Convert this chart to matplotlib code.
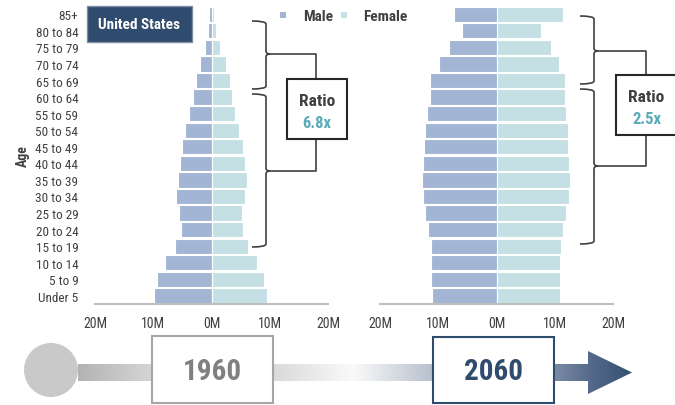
import numpy as np
import matplotlib
matplotlib.use("Agg")
import matplotlib.pyplot as plt
from matplotlib import font_manager
from matplotlib.path import Path
from matplotlib.patches import PathPatch, Rectangle, Circle, Polygon
from matplotlib.colors import LinearSegmentedColormap

ages = ["Under 5", "5 to 9", "10 to 14", "15 to 19", "20 to 24", "25 to 29",
        "30 to 34", "35 to 39", "40 to 44", "45 to 49", "50 to 54", "55 to 59",
        "60 to 64", "65 to 69", "70 to 74", "75 to 79", "80 to 84", "85+"]

# population in millions, youngest group first
male_1960 = [9.9, 9.4, 8.0, 6.3, 5.2, 5.5, 6.1, 5.8, 5.4, 5.1, 4.5, 3.9,
             3.2, 2.7, 2.0, 1.2, 0.6, 0.35]
female_1960 = [9.6, 9.0, 7.8, 6.3, 5.4, 5.3, 5.8, 6.1, 5.7, 5.4, 4.7, 4.1,
               3.6, 3.1, 2.5, 1.5, 0.8, 0.4]
male_2060 = [11.1, 11.2, 11.2, 11.3, 11.8, 12.2, 12.6, 12.8, 12.6, 12.4, 12.3, 11.9,
             11.5, 11.4, 9.9, 8.1, 6.0, 7.3]
female_2060 = [10.9, 10.9, 10.9, 11.0, 11.4, 12.0, 12.4, 12.6, 12.5, 12.2, 12.2, 12.0,
               11.8, 11.8, 10.8, 9.4, 7.6, 11.5]

xticks = [-20, -10, 0, 10, 20]
xtick_labels = ["20M", "10M", "0M", "10M", "20M"]
ratios = ["6.8x", "2.5x"]
years = ["1960", "2060"]

MALE = "#a3b5d4"
FEMALE = "#c5e0e4"
NAVY = "#2f4b6e"
DARK = "#404040"
TEAL = "#5aabb8"


def pick_font():
    for name in ["Liberation Sans Narrow", "Arial Narrow", "Roboto Condensed",
                 "Open Sans Condensed", "Liberation Sans", "DejaVu Sans"]:
        try:
            font_manager.findfont(name, fallback_to_default=False)
            return name
        except Exception:
            pass
    return "DejaVu Sans"


FONT = pick_font()
NARROW = FONT not in ("Liberation Sans", "DejaVu Sans")
plt.rcParams["font.family"] = [FONT, "DejaVu Sans"]

W, H = 675, 406
fig = plt.figure(figsize=(W / 100, H / 100), dpi=100)


def px_axes(x0, x1, ytop, ybot):
    return fig.add_axes([x0 / W, (H - ybot) / H, (x1 - x0) / W, (ybot - ytop) / H])


def pyramid(ax, male, female, show_labels):
    y = np.arange(len(ages))
    ax.barh(y, -np.array(male), height=0.92, color=MALE, edgecolor="white", linewidth=0.8)
    ax.barh(y, female, height=0.92, color=FEMALE, edgecolor="white", linewidth=0.8)
    ax.set_xlim(-20, 20)
    ax.set_ylim(-0.46, 17.5)
    ax.set_xticks(xticks)
    ax.set_xticklabels(xtick_labels)
    ax.set_yticks(y)
    ax.set_yticklabels(ages if show_labels else [])
    ax.tick_params(axis="both", length=0, colors=DARK)
    ax.tick_params(axis="x", pad=9, labelsize=10 if NARROW else 9.5)
    ax.tick_params(axis="y", pad=12, labelsize=9.5 if NARROW else 9)
    for s in ["top", "left", "right"]:
        ax.spines[s].set_visible(False)
    ax.spines["bottom"].set_color("#bfbfbf")
    ax.spines["bottom"].set_linewidth(1.5)


ax1 = px_axes(95, 328, 7, 304.5)
pyramid(ax1, male_1960, female_1960, True)
ax1.set_ylabel("Age", fontweight="bold", fontsize=10, color=DARK)
ax1.yaxis.set_label_coords(-0.28, 0.5)

ax2 = px_axes(380, 613, 7, 304.5)
pyramid(ax2, male_2060, female_2060, False)

# overlay in pixel coordinates for annotations
ov = fig.add_axes([0, 0, 1, 1])
ov.set_xlim(0, W)
ov.set_ylim(H, 0)
ov.axis("off")
ov.patch.set_alpha(0)


def brace(x_tip, x_mid, y0, y1, ym, x_line, y_box):
    r = 3
    verts = [(x_tip, y0), (x_mid, y0), (x_mid, y0 + r),
             (x_mid, ym - r), (x_mid, ym), (x_mid + 4, ym),
             (x_mid, ym), (x_mid, ym + r),
             (x_mid, y1 - r), (x_mid, y1), (x_tip, y1)]
    codes = [Path.MOVETO, Path.CURVE3, Path.CURVE3,
             Path.LINETO, Path.CURVE3, Path.CURVE3,
             Path.CURVE3, Path.CURVE3,
             Path.LINETO, Path.CURVE3, Path.CURVE3]
    ov.add_patch(PathPatch(Path(verts, codes), fill=False, edgecolor=DARK, lw=1.2))
    ov.plot([x_mid + 4, x_line, x_line], [ym, ym, y_box], color=DARK, lw=1.2)


def ratio_box(x0, x1, y0, y1, value):
    ov.add_patch(Rectangle((x0, y0), x1 - x0, y1 - y0, facecolor="white",
                           edgecolor="#262626", lw=1.5, zorder=3))
    cx = (x0 + x1) / 2
    ov.text(cx, y0 + 21, "Ratio", ha="center", va="center", fontsize=12.5,
            fontweight="bold", color=DARK, zorder=4)
    ov.text(cx, y0 + 43, value, ha="center", va="center", fontsize=12,
            fontweight="bold", color=TEAL, zorder=4)


brace(252, 266, 22, 90, 55, 316, 80)
brace(252, 266, 95, 248, 172, 316, 140)
ratio_box(287, 347, 80, 140, ratios[0])

brace(580, 594, 17, 85, 52, 646, 76)
brace(580, 594, 90, 245, 167, 646, 136)
ratio_box(616, 677, 76, 136, ratios[1])

# country label
ov.add_patch(Rectangle((87, 7), 105, 36, facecolor=NAVY, edgecolor="#7f8fa6", lw=1))
ov.text(139.5, 25, "United States", ha="center", va="center",
        fontsize=11 if NARROW else 10, fontweight="bold", color="white")

# legend
ov.add_patch(Rectangle((280, 13), 6, 6, facecolor=MALE, edgecolor="none"))
ov.text(303, 17, "Male", ha="left", va="center", fontsize=11, fontweight="bold", color=DARK)
ov.add_patch(Rectangle((341, 13), 6, 6, facecolor=FEMALE, edgecolor="none"))
ov.text(363, 17, "Female", ha="left", va="center", fontsize=11, fontweight="bold", color=DARK)


# timeline
def gradient(x0, x1, y0, y1, colors, clip=None):
    cmap = LinearSegmentedColormap.from_list("g", colors)
    im = ov.imshow(np.linspace(0, 1, 256)[None, :], cmap=cmap, aspect="auto",
                   extent=(x0, x1, y1, y0), interpolation="bicubic", zorder=1)
    if clip is not None:
        im.set_clip_path(clip)
    return im


ov.add_patch(Circle((51, 371), 27, facecolor="#c9c9c9", edgecolor="none", zorder=2))
gradient(78, 153, 365, 382, ["#b3b3b3", "#d6d6d6"])
gradient(272, 434, 365, 382, ["#d9d9d9", "#fafafa", "#b6c0cd"])

arrow = Polygon([(553, 365), (588, 365), (588, 352), (632, 373.5),
                 (588, 395), (588, 382), (553, 382)], closed=True,
                facecolor="none", edgecolor="none")
ov.add_patch(arrow)
gradient(553, 632, 352, 395, ["#7d8ca4", "#52688a", "#34506f"], clip=arrow)

year_size = 21 if NARROW else 19
ov.add_patch(Rectangle((152, 337), 121, 67, facecolor="white", edgecolor="#a6a6a6",
                       lw=1.5, zorder=3))
ov.text(212.5, 372, years[0], ha="center", va="center", fontsize=year_size,
        fontweight="bold", color="#808080", zorder=4)
ov.add_patch(Rectangle((433, 338), 121, 66, facecolor="white", edgecolor=NAVY,
                       lw=1.5, zorder=3))
ov.text(493.5, 372, years[1], ha="center", va="center", fontsize=year_size,
        fontweight="bold", color=NAVY, zorder=4)

ov.set_xlim(0, W)
ov.set_ylim(H, 0)

fig.savefig("out.png", dpi=100)
